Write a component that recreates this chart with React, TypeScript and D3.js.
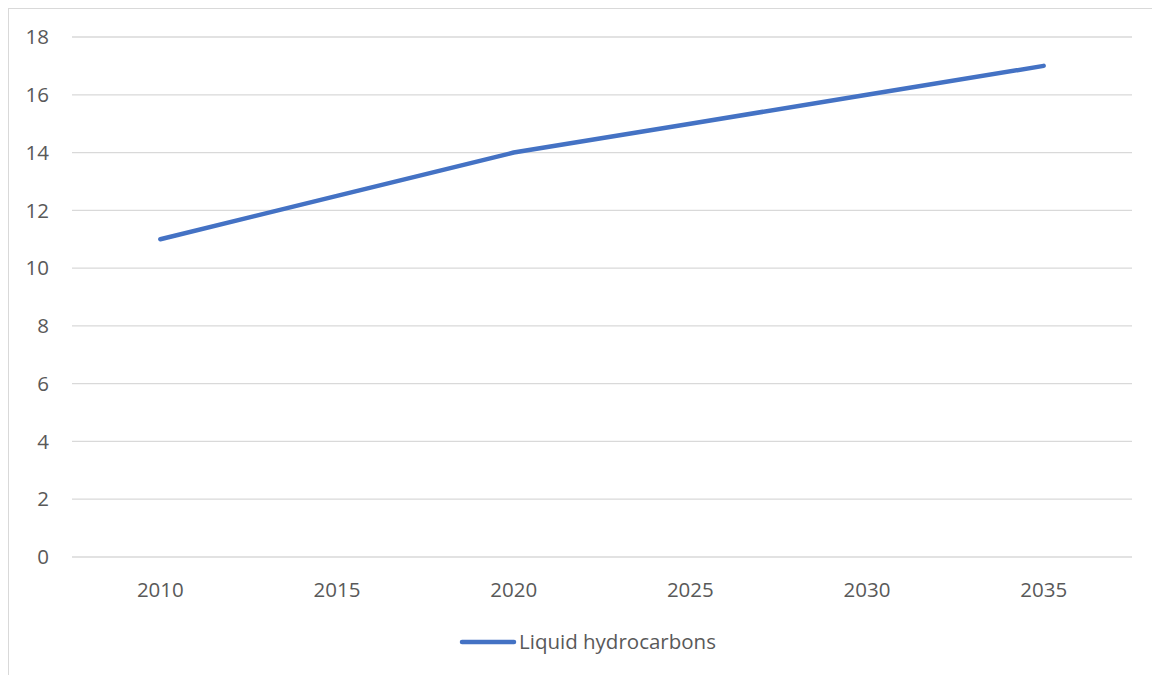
import React from "react";
import * as d3 from "d3";

const years = ["2010", "2015", "2020", "2025", "2030", "2035"];
const values = [11, 12.5, 14, 15, 16, 17];
const yTicks = [0, 2, 4, 6, 8, 10, 12, 14, 16, 18];
const seriesName = "Liquid hydrocarbons";

export default function App() {
  const W = 1152, H = 667;
  const left = 64, right = 1124, top = 29, bottom = 549;
  const x = d3.scaleBand<string>().domain(years).range([left, right]);
  const y = d3.scaleLinear().domain([0, 18]).range([bottom, top]);
  const line = d3
    .line<number>()
    .x((_, i) => (x(years[i]) as number) + x.bandwidth() / 2)
    .y((d) => y(d));
  const font = "'Open Sans', Lato, sans-serif";
  const fs = 20.5;
  return (
    <svg width={W} height={H} style={{ display: "block" }} fontFamily={font}>
      <rect x={0.5} y={0.5} width={W + 10} height={H + 10} fill="#fff" stroke="#d9d9d9" />
      {yTicks.map((t) => (
        <g key={t}>
          <line x1={left} x2={right} y1={y(t)} y2={y(t)} stroke="#d9d9d9" strokeWidth={1.3} />
          <text x={41} y={y(t)} dy="0.35em" textAnchor="end" fontSize={fs} fill="#595959">
            {t}
          </text>
        </g>
      ))}
      {years.map((yr) => (
        <text
          key={yr}
          x={(x(yr) as number) + x.bandwidth() / 2}
          y={582}
          dy="0.35em"
          textAnchor="middle"
          fontSize={fs}
          fill="#595959"
        >
          {yr}
        </text>
      ))}
      <path d={line(values) || ""} fill="none" stroke="#4472C4" strokeWidth={4.5} strokeLinecap="round" strokeLinejoin="round" />
      <line x1={454} x2={506} y1={634} y2={634} stroke="#4472C4" strokeWidth={4.5} strokeLinecap="round" />
      <text x={511} y={634} dy="0.35em" fontSize={fs} fill="#595959">
        {seriesName}
      </text>
    </svg>
  );
}
